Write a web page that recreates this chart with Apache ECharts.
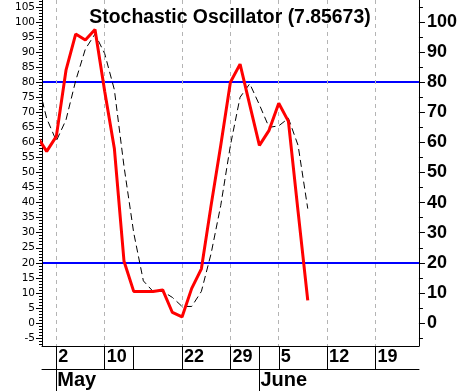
<!DOCTYPE html>
<html><head><meta charset="utf-8">
<script src="https://cdn.jsdelivr.net/npm/echarts@6/dist/echarts.min.js"></script>
<style>html,body{margin:0;padding:0;background:#fff}#c{width:460px;height:391px}</style>
</head><body><div id="c"></div>
<script>
// trading-day index (0 = May 2)
const dayIndex = [-2,-1,0,1,2,3,4,5,6,7,8,9,10,11,12,13,14,15,16,17,18,19,20,21,22,23,24,25,26];
// %K (red) and %D (black dashed)
const kValues = [62,57,62,84,96,94,97.5,77,58,20.5,10.5,10.5,10.5,11,3.5,2,11.5,18,39,59,80,86,72.5,59,64,73,67,37,7.5];
const dValues = [81,68,60.5,67.5,80.5,91,96,89.5,77.5,52,30,14,10.5,10.5,8.5,5.5,5.5,10.5,23,39,59,75,79.5,72.5,65,65.5,68,59,38];
// x axis labels
const weekTicks = [0,5,13,18,23,28,33];
const weekLabels = ['2','10','22','29','5','12','19'];
const cellBorders = [0,5,8,13,18,21,23,28,33];
const monthStarts = [0,21];
const monthLabels = ['May','June'];
// y axis labels
const leftLabels = [-5,0,5,10,15,20,25,30,35,40,45,50,55,60,65,70,75,80,85,90,95,100,105];
const rightLabels = [0,10,20,30,40,50,60,70,80,90,100];
const rightMinor = [-5,0,5,10,15,20,25,30,35,40,45,50,55,60,65,70,75,80,85,90,95,100,105];
const refLevels = [20,80];
const titleText = 'Stochastic Oscillator (7.85673)';

const XMIN = -1.482, XMAX = 37.5;
const YMIN = -7.64, YMAX = 107.31;
const leftMinor = [];
for (let v = -7; v <= 107; v++) leftMinor.push(v);

const ARIAL = 'Liberation Sans, Arial, sans-serif';

const chart = echarts.init(document.getElementById('c'), null, {renderer:'canvas'});
const yBase = {type:'value', gridIndex:0, min:YMIN, max:YMAX, splitLine:{show:false}};
const hiddenY = g => ({type:'value', gridIndex:g, min:0, max:1, show:false,
  axisLine:{show:false}, axisTick:{show:false}, axisLabel:{show:false}, splitLine:{show:false}});
chart.setOption({
  animation:false,
  backgroundColor:'#fff',
  title:{text:titleText, left:'center', top:3,
    textStyle:{fontFamily:ARIAL, fontSize:19.4, fontWeight:'bold', color:'#000'}},
  grid:[
    {left:42, right:41, top:0, bottom:45},
    {left:42, right:41, top:346, bottom:22},
    {left:42, right:41, top:369, bottom:0}
  ],
  xAxis:[
    {type:'value', gridIndex:0, min:XMIN, max:XMAX, position:'bottom',
      axisLine:{show:true, onZero:false, lineStyle:{color:'#000',width:1}},
      axisTick:{show:false, customValues:weekTicks},
      axisLabel:{show:false},
      splitLine:{show:true, lineStyle:{color:'#b4b4b4', width:1, type:[4,4]}}},
    {type:'value', gridIndex:1, min:XMIN, max:XMAX, position:'bottom',
      axisLine:{show:true, onZero:false, lineStyle:{color:'#000',width:1}},
      axisTick:{show:true, inside:true, length:23, customValues:cellBorders, lineStyle:{color:'#000',width:1}},
      axisLabel:{show:true, inside:true, customValues:weekTicks, margin:3, align:'left', padding:[0,0,0,2],
        formatter:v=>weekLabels[weekTicks.indexOf(v)],
        fontFamily:ARIAL, fontSize:18, fontWeight:'bold', color:'#000'},
      splitLine:{show:false}},
    {type:'value', gridIndex:2, min:XMIN, max:XMAX, position:'bottom',
      axisLine:{show:false, onZero:false},
      axisTick:{show:true, inside:true, length:22, customValues:monthStarts, lineStyle:{color:'#000',width:1}},
      axisLabel:{show:true, inside:true, customValues:monthStarts, margin:1, align:'left', padding:[0,0,0,1],
        formatter:v=>monthLabels[monthStarts.indexOf(v)],
        fontFamily:ARIAL, fontSize:20, fontWeight:'bold', color:'#000'},
      splitLine:{show:false}}
  ],
  yAxis:[
    Object.assign({}, yBase, {position:'left',
      axisLine:{show:true, onZero:false, lineStyle:{color:'#000',width:1}},
      axisTick:{show:true, length:6, customValues:leftLabels, lineStyle:{color:'#000'}},
      axisLabel:{show:true, customValues:leftLabels, margin:7, fontFamily:'DejaVu Sans, Verdana, sans-serif', fontSize:10.5, color:'#000'}}),
    Object.assign({}, yBase, {position:'left',
      axisLine:{show:false, onZero:false},
      axisTick:{show:true, length:3, customValues:leftMinor, lineStyle:{color:'#000'}},
      axisLabel:{show:false}}),
    Object.assign({}, yBase, {position:'right',
      axisLine:{show:true, onZero:false, lineStyle:{color:'#000',width:1}},
      axisTick:{show:true, length:6, customValues:rightLabels, lineStyle:{color:'#000'}},
      axisLabel:{show:true, customValues:rightLabels, margin:8, fontFamily:ARIAL, fontSize:18, fontWeight:'bold', color:'#000'}}),
    Object.assign({}, yBase, {position:'right',
      axisLine:{show:false, onZero:false},
      axisTick:{show:true, length:4, customValues:rightMinor, lineStyle:{color:'#000'}},
      axisLabel:{show:false}}),
    Object.assign({}, yBase, {position:'left',
      axisLine:{show:false, onZero:false},
      axisTick:{show:false, customValues:refLevels},
      axisLabel:{show:false},
      splitLine:{show:true, lineStyle:{color:'#0000ff', width:2}}}),
    hiddenY(1),
    hiddenY(2)
  ],
  series:[
    {name:'%D', type:'line', xAxisIndex:0, yAxisIndex:0, showSymbol:false, symbol:'none', z:3,
      data:dayIndex.map((d,i)=>[d,dValues[i]]),
      lineStyle:{color:'#000', width:1, type:[7,4]}},
    {name:'%K', type:'line', xAxisIndex:0, yAxisIndex:0, showSymbol:false, symbol:'none', z:4,
      data:dayIndex.map((d,i)=>[d,kValues[i]]),
      lineStyle:{color:'#ff0000', width:3}}
  ]
});
</script></body></html>
